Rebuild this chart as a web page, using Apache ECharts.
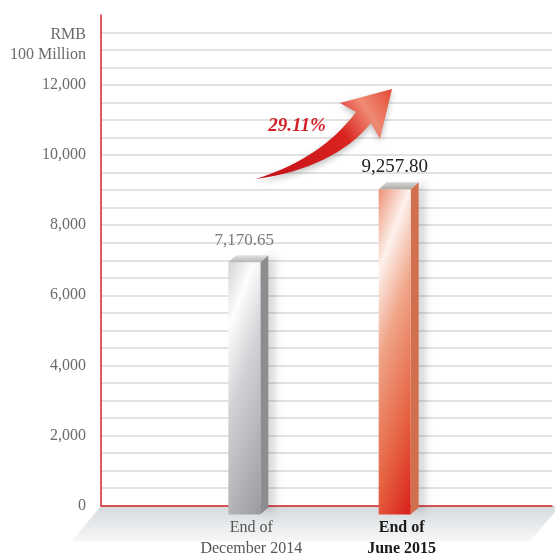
<!DOCTYPE html>
<html>
<head>
<meta charset="utf-8">
<script src="https://cdn.jsdelivr.net/npm/echarts@6/dist/echarts.min.js"></script>
<style>
  html, body { margin: 0; padding: 0; background: #fff; }
  #chart { width: 555px; height: 557px; }
</style>
</head>
<body>
<div id="chart"></div>
<script>
const categories = ['', 'End of\nDecember 2014', 'End of\nJune 2015', ''];
const balances = [null, 7170.65, 9257.80, null];
const valueLabels = ['', '7,170.65', '9,257.80', ''];
const yTicks = [0, 2000, 4000, 6000, 8000, 10000, 12000];
const unitLines = ['RMB', '100 Million'];
const growthLabel = '29.11%';

const SERIF = '"Liberation Serif", "DejaVu Serif", serif';
const AXIS_RED = '#d2232a';

// look of each bar, keyed by category index
const barLook = {
  1: {
    front: [[0, '#d3d4d7'], [0.2, '#fdfdfd'], [0.45, '#d2d3d6'], [1, '#9a9b9f']],
    side: '#8c8d91',
    cap: [[0, '#e2e3e4'], [1, '#b4b5b7']],
    label: { color: '#7a7a7a', size: 17, weight: 'normal' }
  },
  2: {
    front: [[0, '#ee9275'], [0.2, '#fdf1ec'], [0.42, '#f0a488'], [0.75, '#e5603f'], [1, '#d8201b']],
    side: '#d0704f',
    cap: [[0, '#d6d6d6'], [1, '#aeacaa']],
    label: { color: '#222222', size: 19, weight: 'normal' }
  }
};

function grad(stops, x, y, x2, y2, global) {
  return {
    type: 'linear', x: x, y: y, x2: x2, y2: y2, global: !!global,
    colorStops: stops.map(s => ({ offset: s[0], color: s[1] }))
  };
}

// sample a quadratic curve for the decorative arrow outline
function quad(p0, c, p1, n) {
  const pts = [];
  for (let k = 0; k <= n; k++) {
    const t = k / n, u = 1 - t;
    pts.push([u * u * p0[0] + 2 * u * t * c[0] + t * t * p1[0],
              u * u * p0[1] + 2 * u * t * c[1] + t * t * p1[1]]);
  }
  return pts;
}
const arrowPts = [].concat(
  quad([256, 179], [322, 158], [356, 112], 16),
  [[340, 103], [392, 89], [380, 139], [371, 123]],
  quad([371, 123], [334, 168], [256, 179], 16)
);

function renderBar(params, api) {
  const i = api.value(0);
  const top = api.coord([i, api.value(1)]);
  const base = api.coord([i, 0]);
  const cx = top[0], yv = top[1], y0 = base[1];
  const x0 = cx - 23, x1 = cx + 9, dx = 8, dy = 7;
  const ft = yv + dy + 1, fb = y0 + 9;
  const look = barLook[i];
  // diagonal sheen: gradient runs mostly across, slightly down
  const ux = 0.934, uy = 0.352;
  const len = ux * (x1 - x0) + uy * (fb - ft);
  return {
    type: 'group',
    children: [
      {
        type: 'polygon',
        shape: { points: [[x1, ft], [x1 + dx, ft - dy], [x1 + dx, fb - dy], [x1, fb]] },
        style: { fill: look.side, shadowBlur: 10, shadowOffsetX: 5, shadowColor: 'rgba(0,0,0,0.22)' }
      },
      {
        type: 'rect',
        shape: { x: x0, y: ft, width: x1 - x0, height: fb - ft },
        style: { fill: grad(look.front, x0, ft, x0 + ux * len, ft + uy * len, true) }
      },
      {
        type: 'polygon',
        shape: { points: [[x0, ft], [x0 + dx, ft - dy], [x1 + dx, ft - dy], [x1, ft]] },
        style: { fill: grad(look.cap, 0, 0, 0, 1) }
      },
      {
        type: 'text',
        x: cx - 7,
        y: yv - 5,
        style: {
          text: valueLabels[i],
          fill: look.label.color,
          fontSize: look.label.size,
          fontWeight: look.label.weight,
          fontFamily: SERIF,
          align: 'center',
          verticalAlign: 'bottom'
        }
      }
    ]
  };
}

const barData = balances
  .map((v, i) => [i, v])
  .filter(d => d[1] != null);

const chart = echarts.init(document.getElementById('chart'));
chart.setOption({
  backgroundColor: '#ffffff',
  animation: false,
  grid: { left: 101, right: 0, top: 15, bottom: 51 },
  xAxis: {
    type: 'category',
    data: categories,
    boundaryGap: false,
    axisLine: { lineStyle: { color: AXIS_RED, width: 1.5 } },
    axisTick: { show: false },
    axisLabel: {
      interval: 0,
      margin: 12,
      formatter: (val, idx) => {
        if (!val) return '';
        const tag = idx === 2 ? 'b' : 'g';
        return val.split('\n').map(l => '{' + tag + '|' + l + '}').join('\n');
      },
      rich: {
        g: { fontFamily: SERIF, fontSize: 16, color: '#555555', lineHeight: 21 },
        b: { fontFamily: SERIF, fontSize: 16, color: '#1a1a1a', fontWeight: 'bold', lineHeight: 21 }
      }
    }
  },
  yAxis: {
    type: 'value',
    min: 0,
    max: 14000,
    interval: 500,
    axisLine: { show: true, lineStyle: { color: AXIS_RED, width: 1.5 } },
    axisTick: { show: false },
    splitLine: { show: true, showMaxLine: false, lineStyle: { color: '#d9d9d9', width: 1.5 } },
    axisLabel: {
      margin: 15,
      fontFamily: SERIF,
      fontSize: 16,
      color: '#6b6b6b',
      showMaxLabel: false,
      formatter: v => yTicks.includes(v) ? v.toLocaleString('en-US') : ''
    }
  },
  graphic: [
    {
      type: 'polygon',
      z: -1,
      shape: { points: [[101, 506], [555, 506], [555, 512], [530, 541], [72, 541]] },
      style: { fill: grad([[0, '#d6dadd'], [1, '#f6f7f8']], 0, 0, 0, 1) }
    },
    {
      type: 'text',
      x: 86,
      y: 25,
      style: {
        text: unitLines.join('\n'),
        fontFamily: SERIF,
        fontSize: 16,
        lineHeight: 20,
        fill: '#6b6b6b',
        align: 'right'
      }
    },
    {
      type: 'polygon',
      z: 10,
      shape: { points: arrowPts },
      style: {
        fill: grad([[0, '#c40f18'], [0.6, '#d92420'], [0.8, '#ef8a74'], [1, '#e44a36']], 0, 1, 1, 0),
        shadowBlur: 6,
        shadowOffsetY: 3,
        shadowColor: 'rgba(0,0,0,0.25)'
      }
    },
    {
      type: 'text',
      z: 10,
      x: 297,
      y: 126,
      style: {
        text: growthLabel,
        fontFamily: SERIF,
        fontSize: 19,
        fontWeight: 'bold',
        fontStyle: 'italic',
        fill: '#d11f26',
        align: 'center',
        verticalAlign: 'middle'
      }
    }
  ],
  series: [{
    type: 'custom',
    renderItem: renderBar,
    data: barData,
    z: 5
  }]
});
</script>
</body>
</html>
